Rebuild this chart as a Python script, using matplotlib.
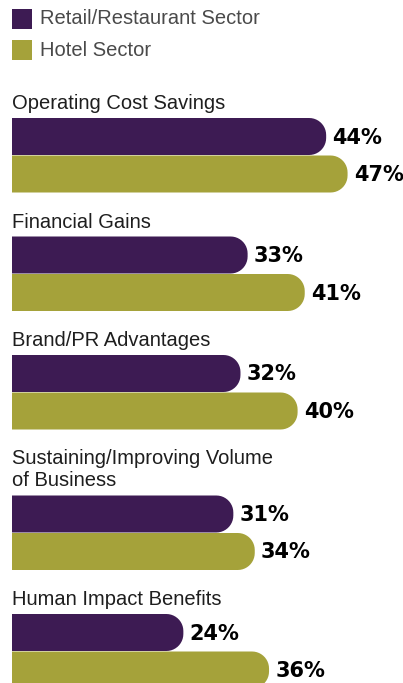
import numpy as np
import matplotlib
matplotlib.use("Agg")
import matplotlib.pyplot as plt
from matplotlib.patches import Polygon, Rectangle

# data
categories = ["Operating Cost Savings", "Financial Gains", "Brand/PR Advantages",
              "Sustaining/Improving Volume\nof Business", "Human Impact Benefits"]
series_names = ["Retail/Restaurant Sector", "Hotel Sector"]
retail = [44, 33, 32, 31, 24]
hotel = [47, 41, 40, 34, 36]
colors = ["#3d1b53", "#a5a23a"]

W, H = 403, 683
px_per_pct = 7.14
x0_px = 12

fig = plt.figure(figsize=(W / 100, H / 100), dpi=100)
ax = fig.add_axes([0, 0, 1, 1])
ax.set_xlim(-x0_px / px_per_pct, (W - x0_px) / px_per_pct)
ax.set_ylim(H, 0)
ax.axis("off")

label_font = ["Liberation Sans", "DejaVu Sans"]
bar_h = 37
radius_px = 17
rx = radius_px / px_per_pct


def rounded_bar(value, top, color):
    """Bar with a rounded right end, x in percent, y in pixels."""
    bottom = top + bar_h
    t = np.linspace(np.pi / 2, 0, 12)
    top_arc = np.column_stack([value - rx + rx * np.cos(t), top + radius_px - radius_px * np.sin(t)])
    t2 = np.linspace(0, -np.pi / 2, 12)
    bot_arc = np.column_stack([value - rx + rx * np.cos(t2), bottom - radius_px - radius_px * np.sin(t2)])
    pts = np.vstack([[[0, top]], top_arc, bot_arc, [[0, bottom]]])
    ax.add_patch(Polygon(pts, closed=True, facecolor=color, edgecolor="none"))


# legend
for i, name in enumerate(series_names):
    yl = 9 + i * 31
    ax.add_patch(Rectangle((0, yl), 20 / px_per_pct, 20, facecolor=colors[i], edgecolor="none"))
    ax.text(28 / px_per_pct, yl + 10, name, family=label_font, fontsize=14.5,
            color="#4a4a4a", va="center", ha="left")

top = 118
for i, cat in enumerate(categories):
    n_lines = cat.count("\n")
    top += 22 * n_lines
    ax.text(0, top - 9, cat, family=label_font, fontsize=14.5, color="#1e1e1e",
            va="baseline", ha="left", linespacing=1.2)
    for j, vals in enumerate([retail, hotel]):
        bt = top + j * 37.5
        rounded_bar(vals[i], bt, colors[j])
        ax.text(vals[i] + 0.85, bt + bar_h / 2 + 1, f"{vals[i]}%", family="DejaVu Sans",
                fontsize=15, fontweight="bold", color="black", va="center", ha="left")
    top += 118.5

fig.savefig("out.png", dpi=100)
